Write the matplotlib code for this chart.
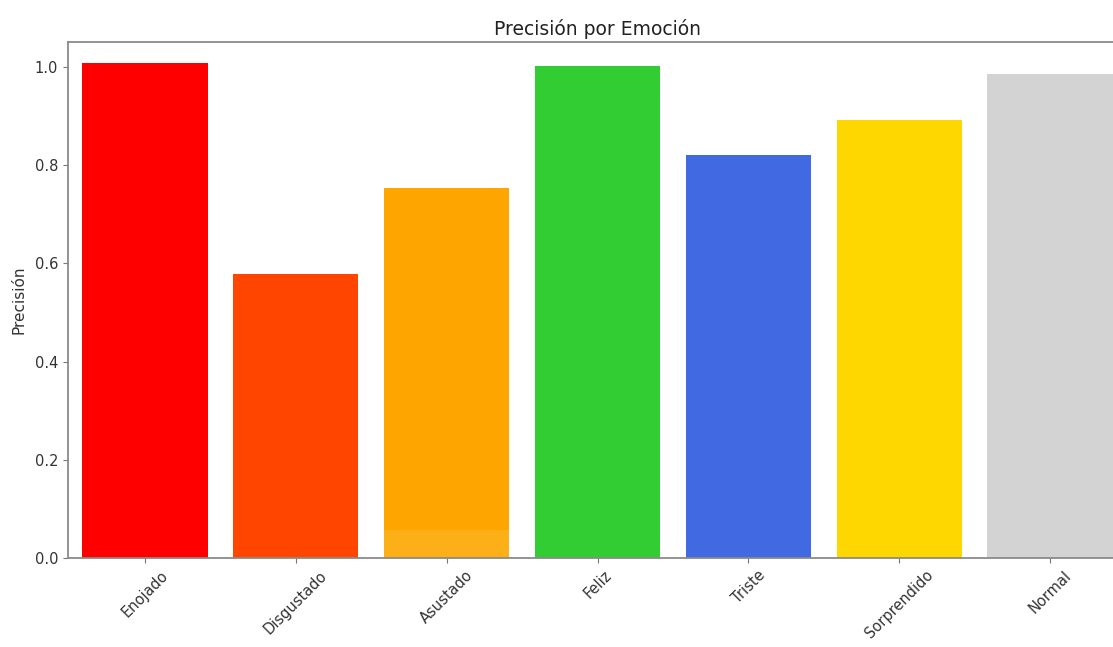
import matplotlib.pyplot as plt

# data
emociones = ['Enojado', 'Disgustado', 'Asustado', 'Feliz', 'Triste', 'Sorprendido', 'Normal']
precision = [1.008, 0.578, 0.753, 1.003, 0.821, 0.892, 0.985]
colores = ['red', 'orangered', 'orange', 'limegreen', 'royalblue', 'gold', 'lightgray']
# faint lighter band at the foot of the Asustado bar
capa = [0, 0, 0.057, 0, 0, 0, 0]

fig = plt.figure(figsize=(11.13, 6.47), dpi=100)
# axes runs slightly past the right edge, like the cropped original
ax = fig.add_axes([68 / 1113, 1 - 558 / 647, (1127 - 68) / 1113, (558 - 42) / 647])

x = range(len(emociones))
ax.bar(x, precision, width=0.83, color=colores)
ax.bar(x, capa, width=0.83, color='#fcb627', alpha=0.6)

ax.set_xlim(-0.51, 6.51)
ax.set_ylim(0, 1.051)
ax.set_xticks(list(x))
ax.set_xticklabels(emociones, rotation=45, fontsize=10.5, color='#333333')
ax.set_yticks([0.0, 0.2, 0.4, 0.6, 0.8, 1.0])
ax.set_yticklabels(['0.0', '0.2', '0.4', '0.6', '0.8', '1.0'], fontsize=10.5, color='#333333')
ax.tick_params(color='#777777')

for s in ax.spines.values():
    s.set_color('#8a8a8a')
    s.set_linewidth(1.3)

ax.set_title('Precisión por Emoción', fontsize=13.5, color='#222222', pad=5)
ax.set_ylabel('Precisión', fontsize=11, color='#333333', labelpad=6)

fig.savefig('out.png', dpi=100)
